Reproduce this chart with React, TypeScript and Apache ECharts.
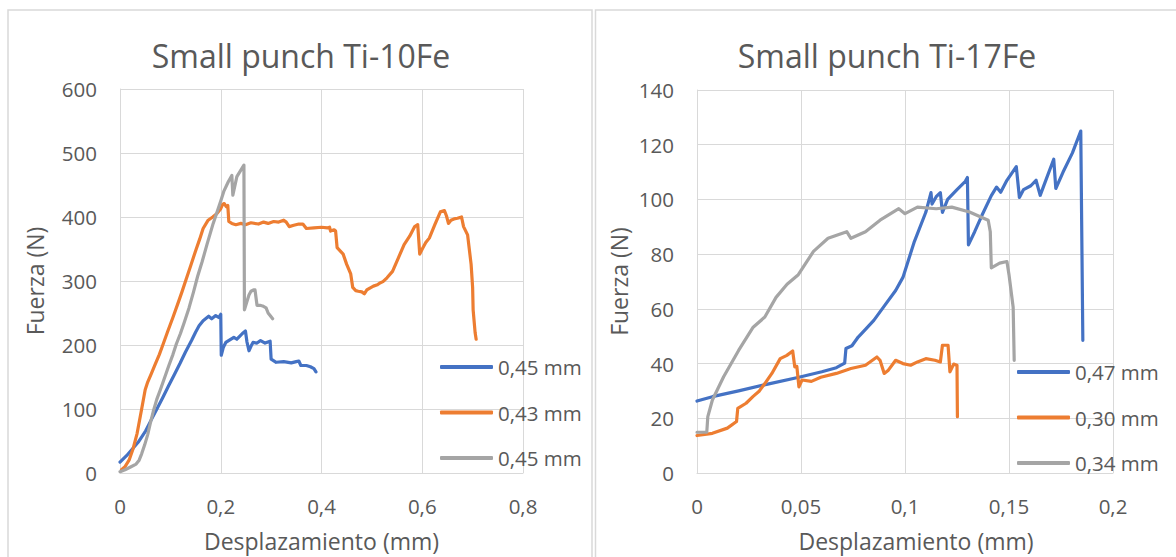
import React, { useEffect, useRef } from "react";
import * as echarts from "echarts";

const TITLE_LEFT = "Small punch Ti-10Fe";
const TITLE_RIGHT = "Small punch Ti-17Fe";
const X_NAME = "Desplazamiento (mm)";
const Y_NAME = "Fuerza (N)";
const LEGEND_LEFT = ["0,45 mm", "0,43 mm", "0,45 mm"];
const LEGEND_RIGHT = ["0,47 mm", "0,30 mm", "0,34 mm"];
const COLORS = ["#4472C4", "#ED7D31", "#A5A5A5"];

// Ti-10Fe, [desplazamiento mm, fuerza N]
const ti10_045a: [number, number][] = [
  [0, 17], [0.013, 27], [0.025, 38], [0.036, 48], [0.051, 66], [0.062, 83], [0.074, 101],
  [0.085, 118], [0.097, 137], [0.108, 154], [0.119, 171], [0.13, 189], [0.142, 207],
  [0.15, 220], [0.157, 230], [0.165, 238], [0.176, 245], [0.182, 241], [0.19, 246],
  [0.196, 243], [0.2, 248], [0.201, 184], [0.205, 196], [0.21, 204], [0.218, 208],
  [0.226, 212], [0.232, 209], [0.237, 213], [0.243, 218], [0.249, 222], [0.252, 205],
  [0.256, 191], [0.26, 198], [0.264, 204], [0.272, 203], [0.279, 207], [0.288, 203],
  [0.298, 206], [0.3, 178], [0.31, 173], [0.325, 174], [0.34, 172], [0.35, 174],
  [0.355, 175], [0.359, 168], [0.37, 168], [0.378, 166], [0.385, 163], [0.389, 158],
];
const ti10_043: [number, number][] = [
  [0.003, 5], [0.01, 10], [0.018, 20], [0.026, 38], [0.034, 62], [0.043, 100], [0.05, 130],
  [0.055, 142], [0.062, 155], [0.07, 170], [0.078, 185], [0.085, 200], [0.095, 222],
  [0.105, 243], [0.115, 265], [0.123, 283], [0.131, 302], [0.14, 323], [0.15, 347],
  [0.158, 365], [0.165, 382], [0.175, 395], [0.184, 400], [0.192, 405], [0.2, 413],
  [0.204, 420], [0.207, 421], [0.211, 416], [0.214, 418], [0.216, 393], [0.222, 390],
  [0.23, 388], [0.24, 390], [0.249, 388], [0.26, 391], [0.275, 389], [0.285, 392],
  [0.294, 390], [0.305, 393], [0.315, 392], [0.325, 395], [0.33, 392], [0.336, 385],
  [0.345, 387], [0.355, 389], [0.363, 389], [0.37, 382], [0.385, 383], [0.4, 384],
  [0.412, 383], [0.416, 384], [0.418, 378], [0.425, 380], [0.428, 378], [0.431, 352],
  [0.437, 347], [0.443, 342], [0.45, 326], [0.458, 311], [0.462, 290], [0.468, 285],
  [0.473, 284], [0.48, 283], [0.485, 280], [0.49, 286], [0.496, 289], [0.503, 292],
  [0.511, 294], [0.516, 297], [0.522, 299], [0.53, 305], [0.541, 315], [0.552, 335],
  [0.564, 357], [0.575, 370], [0.585, 385], [0.591, 388], [0.595, 342], [0.6, 350],
  [0.607, 360], [0.614, 367], [0.625, 388], [0.636, 408], [0.644, 410], [0.648, 402],
  [0.652, 390], [0.657, 395], [0.663, 397], [0.67, 398], [0.678, 400], [0.682, 385],
  [0.69, 372], [0.697, 326], [0.7, 290], [0.701, 255], [0.705, 219], [0.707, 209],
];
const ti10_045b: [number, number][] = [
  [0, 2], [0.01, 5], [0.02, 9], [0.032, 14], [0.038, 20], [0.043, 30], [0.049, 44],
  [0.055, 60], [0.06, 77], [0.066, 96], [0.073, 115], [0.081, 132], [0.089, 150],
  [0.097, 168], [0.105, 185], [0.112, 202], [0.12, 218], [0.127, 234], [0.137, 258],
  [0.146, 283], [0.154, 307], [0.163, 330], [0.173, 358], [0.185, 390], [0.2, 425],
  [0.206, 440], [0.215, 455], [0.222, 465], [0.224, 434], [0.232, 463], [0.239, 472],
  [0.246, 481], [0.247, 255], [0.252, 268], [0.256, 278], [0.26, 284], [0.265, 286],
  [0.268, 286], [0.272, 262], [0.278, 262], [0.283, 261], [0.29, 258], [0.294, 250],
  [0.298, 246], [0.303, 241],
];

// Ti-17Fe, [desplazamiento mm, fuerza N]
const ti17_047: [number, number][] = [
  [0, 26.3], [0.0074, 27.9], [0.02, 30], [0.034, 32.5], [0.049, 35], [0.06, 37],
  [0.067, 38.5], [0.071, 40.2], [0.0716, 45.5], [0.0745, 46.5], [0.0775, 49.7],
  [0.081, 52.5], [0.085, 55.8], [0.09, 61], [0.0955, 66.7], [0.099, 71.5], [0.1045, 84.6],
  [0.11, 95.3], [0.1125, 102.5], [0.113, 98.3], [0.115, 101], [0.117, 102.5],
  [0.118, 95.3], [0.1205, 100], [0.125, 103.6], [0.129, 106.6], [0.13, 108],
  [0.1305, 83.4], [0.1335, 88.2], [0.137, 94.2], [0.1415, 101.4], [0.144, 104.5],
  [0.146, 102.6], [0.149, 107], [0.1535, 112], [0.155, 100.7], [0.157, 103.6],
  [0.1605, 105], [0.163, 107], [0.165, 101.5], [0.168, 107.6], [0.1715, 114.7],
  [0.1725, 104], [0.176, 110], [0.1805, 117], [0.1845, 125], [0.1855, 48.5],
];
const ti17_030: [number, number][] = [
  [0, 13.7], [0.0074, 14.5], [0.0146, 16.4], [0.019, 18.8], [0.0196, 23.6],
  [0.0236, 25.5], [0.027, 28], [0.03, 30], [0.0326, 32.7], [0.036, 36.4], [0.04, 41.8],
  [0.0432, 43], [0.046, 44.6], [0.047, 38.8], [0.048, 39], [0.049, 31.5], [0.0505, 34],
  [0.055, 33.5], [0.0595, 35], [0.067, 36.4], [0.074, 38.2], [0.081, 39.4],
  [0.0865, 42.4], [0.088, 41.2], [0.09, 36.4], [0.092, 37.6], [0.0955, 41.2],
  [0.099, 40], [0.1027, 39.4], [0.106, 40.6], [0.11, 41.8], [0.1144, 41.2],
  [0.117, 40.6], [0.118, 46.7], [0.1207, 46.7], [0.1216, 37], [0.1234, 39.8],
  [0.125, 39.4], [0.1252, 20.6],
];
const ti17_034: [number, number][] = [
  [0, 14.9], [0.0047, 14.9], [0.0052, 20.6], [0.0074, 26.7], [0.0128, 35.2], [0.02, 44.8],
  [0.027, 53.3], [0.0326, 57], [0.038, 64.2], [0.0433, 69], [0.0487, 72.5], [0.056, 81],
  [0.063, 85.8], [0.072, 88.2], [0.074, 85.8], [0.081, 88.2], [0.088, 92.4],
  [0.097, 96.6], [0.1, 94.8], [0.106, 97.2], [0.115, 96.6], [0.1225, 97.2],
  [0.131, 95.4], [0.14, 92.4], [0.141, 88.2], [0.1415, 75], [0.1455, 76.7],
  [0.149, 77.3], [0.15, 72.5], [0.152, 60.6], [0.1525, 41.2],
];

const X_LEFT_TICKS = { min: 0, max: 0.8, interval: 0.2 };
const Y_LEFT_TICKS = { min: 0, max: 600, interval: 100 };
const X_RIGHT_TICKS = { min: 0, max: 0.2, interval: 0.05 };
const Y_RIGHT_TICKS = { min: 0, max: 140, interval: 20 };

const FONT = "Open Sans";
const TEXT = "#595959";
const GRID = "#D9D9D9";

const fmt = (v: number) => String(Math.round(v * 1000) / 1000).replace(".", ",");

const NAME_MAP: Record<string, string> = {
  L1: LEGEND_LEFT[0], L2: LEGEND_LEFT[1], L3: LEGEND_LEFT[2],
  R1: LEGEND_RIGHT[0], R2: LEGEND_RIGHT[1], R3: LEGEND_RIGHT[2],
};

function xAxis(gridIndex: number, t: { min: number; max: number; interval: number }, shift: number) {
  return {
    type: "value", gridIndex, ...t,
    name: X_NAME, nameLocation: "middle", nameGap: 56,
    nameTextStyle: { fontSize: 23, color: TEXT, fontFamily: FONT, padding: [0, 0, 0, shift] },
    axisLine: { show: true, lineStyle: { color: GRID, width: 1 } },
    axisTick: { show: false },
    splitLine: { show: true, lineStyle: { color: GRID, width: 1 } },
    axisLabel: { formatter: fmt, fontSize: 20.5, color: TEXT, fontFamily: FONT, margin: 22, showMaxLabel: true, showMinLabel: true },
  };
}
function yAxis(gridIndex: number, t: { min: number; max: number; interval: number }, gap: number) {
  return {
    type: "value", gridIndex, ...t,
    name: Y_NAME, nameLocation: "middle", nameGap: gap, nameRotate: 90,
    nameTextStyle: { fontSize: 23, color: TEXT, fontFamily: FONT },
    axisLine: { show: true, lineStyle: { color: GRID, width: 1 } },
    axisTick: { show: false },
    splitLine: { show: true, lineStyle: { color: GRID, width: 1 } },
    axisLabel: { formatter: fmt, fontSize: 20.5, color: TEXT, fontFamily: FONT, margin: 23 },
  };
}
function line(name: string, data: [number, number][], color: string, idx: number) {
  return {
    type: "line", name, data, xAxisIndex: idx, yAxisIndex: idx,
    showSymbol: false, symbol: "none", color,
    lineStyle: { color, width: 3.2, cap: "round", join: "round" },
    emphasis: { disabled: true },
  };
}
function legend(data: string[], left: number, top: number) {
  return {
    data, orient: "vertical", left, top, padding: 0, itemGap: 24.5,
    itemWidth: 53, itemHeight: 4, icon: "roundRect",
    formatter: (n: string) => NAME_MAP[n],
    textStyle: { fontSize: 20.5, color: TEXT, fontFamily: FONT, padding: [0, 0, 0, 0] },
    selectedMode: false,
  };
}

export default function App() {
  const ref = useRef<HTMLDivElement>(null);
  useEffect(() => {
    if (!ref.current) return;
    const chart = echarts.init(ref.current, undefined, { renderer: "svg" });
    chart.setOption({
      animation: false,
      textStyle: { fontFamily: FONT },
      grid: [
        { left: 120, top: 89, width: 403, height: 390, containLabel: false },
        { left: 697, top: 90, width: 416, height: 387, containLabel: false },
      ],
      xAxis: [xAxis(0, X_LEFT_TICKS, 0), xAxis(1, X_RIGHT_TICKS, 22)],
      yAxis: [yAxis(0, Y_LEFT_TICKS, 74), yAxis(1, Y_RIGHT_TICKS, 67)],
      legend: [legend(["L1", "L2", "L3"], 440, 356.5), legend(["R1", "R2", "R3"], 1017, 361.5)],
      series: [
        line("L1", ti10_045a, COLORS[0], 0),
        line("L2", ti10_043, COLORS[1], 0),
        line("L3", ti10_045b, COLORS[2], 0),
        line("R1", ti17_047, COLORS[0], 1),
        line("R2", ti17_030, COLORS[1], 1),
        line("R3", ti17_034, COLORS[2], 1),
      ],
      graphic: [
        { type: "rect", shape: { x: 8, y: 10, width: 584, height: 580 }, style: { fill: "none", stroke: GRID, lineWidth: 1.5 }, silent: true },
        { type: "rect", shape: { x: 595.5, y: 10, width: 600, height: 580 }, style: { fill: "none", stroke: GRID, lineWidth: 1.5 }, silent: true },
        { type: "text", x: 301, y: 55, style: { text: TITLE_LEFT, fontSize: 32, fontFamily: FONT, fill: TEXT, align: "center", verticalAlign: "middle" }, silent: true },
        { type: "text", x: 887, y: 55, style: { text: TITLE_RIGHT, fontSize: 32, fontFamily: FONT, fill: TEXT, align: "center", verticalAlign: "middle" }, silent: true },
      ],
    });
    return () => chart.dispose();
  }, []);
  return (
    <div
      ref={ref}
      style={{ position: "absolute", left: 0, top: 0, width: 1176, height: 557, background: "#fff" }}
    />
  );
}
